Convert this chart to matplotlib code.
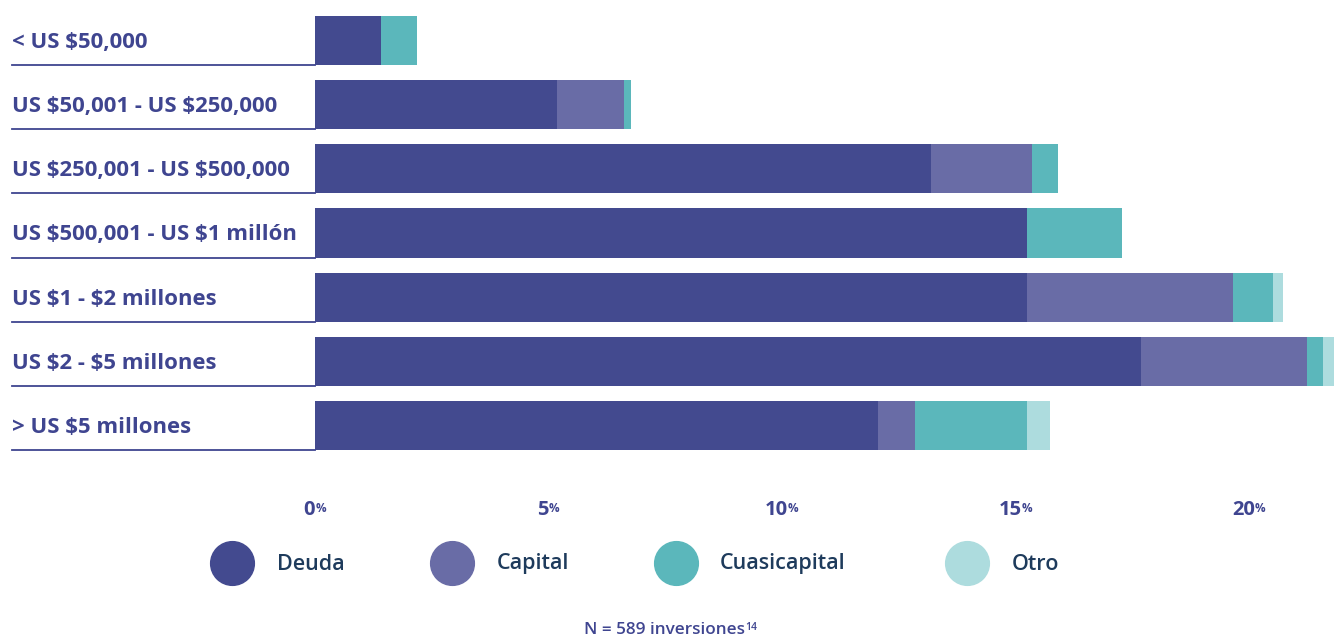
import matplotlib
matplotlib.use("Agg")
import matplotlib.pyplot as plt
from matplotlib.lines import Line2D
from matplotlib.transforms import blended_transform_factory

plt.rcParams['font.family'] = ['Open Sans', 'DejaVu Sans']

# share of investments by ticket size and instrument (%)
ranges = ["< US \\$50,000", "US \\$50,001 - US \\$250,000", "US \\$250,001 - US \\$500,000",
          "US \\$500,001 - US \\$1 millón", "US \\$1 - \\$2 millones", "US \\$2 - \\$5 millones",
          "> US \\$5 millones"]
deuda = [1.41, 5.18, 13.19, 15.25, 15.25, 17.69, 12.06]
capital = [0.0, 1.43, 2.16, 0.0, 4.41, 3.55, 0.79]
cuasicapital = [0.77, 0.15, 0.56, 2.03, 0.86, 0.34, 2.40]
otro = [0.0, 0.0, 0.0, 0.0, 0.21, 0.24, 0.49]

series = ["Deuda", "Capital", "Cuasicapital", "Otro"]
colors = ["#434a8f", "#696ca6", "#5bb7bb", "#addcde"]
ticks = [0, 5, 10, 15, 20]

navy = "#3f4590"
W, H = 1334, 637
fig = plt.figure(figsize=(W / 100, H / 100), dpi=100)
ax = fig.add_axes([315 / W, (H - 470) / H, (W - 315) / W, 470 / H])

rows = list(range(len(ranges)))
left = [0.0] * len(ranges)
for vals, c in zip([deuda, capital, cuasicapital, otro], colors):
    ax.barh(rows, vals, left=left, height=0.764, color=c, linewidth=0)
    left = [a + b for a, b in zip(left, vals)]

ax.set_xlim(0, (W - 315) / 46.7)
ax.set_ylim(6.693, -0.631)
ax.axis("off")

# category labels with underline running to the bar start
tr = blended_transform_factory(fig.transFigure, ax.transData)
for r, lab in zip(rows, ranges):
    fig.text(12 / W, r + 0.03, lab, transform=tr, ha="left", va="center",
             fontsize=15.9, fontweight="bold", color=navy)
    fig.add_artist(Line2D([12 / W, 315 / W], [r + 0.382, r + 0.382], transform=tr,
                          color=navy, linewidth=1.3))

# x tick labels with small superscript percent sign
for t in ticks:
    num = ax.annotate(str(t), xy=(t, (H - 510) / H), xycoords=("data", "figure fraction"),
                      xytext=(-4, 0), textcoords="offset points",
                      ha="center", va="center", fontsize=14.5, fontweight="bold", color=navy,
                      annotation_clip=False)
    ax.annotate("%", xy=(1, 1), xycoords=num, xytext=(0, -1.5), textcoords="offset points",
                ha="left", va="top", fontsize=8.5, fontweight="bold", color=navy)

# legend
circle_x = [232, 452, 676, 967]
text_x = [277, 497, 720, 1012]
for name, c, cx, tx in zip(series, colors, circle_x, text_x):
    fig.add_artist(Line2D([cx / W], [(H - 563) / H], marker="o", markersize=31.5,
                          color=c, linestyle="none", transform=fig.transFigure))
    fig.text(tx / W, (H - 564) / H, name, ha="left", va="center", fontsize=15.5,
             fontweight="semibold", color="#1e3b5c")

note = fig.text(584 / W, (H - 630) / H, "N = 589 inversiones", ha="left", va="center",
                fontsize=12.3, fontweight="semibold", color=navy)
ax.annotate("14", xy=(1, 1), xycoords=note, xytext=(0, 0), textcoords="offset points",
            ha="left", va="top", fontsize=7.5, fontweight="semibold", color=navy)

fig.savefig("out.png", dpi=100)
